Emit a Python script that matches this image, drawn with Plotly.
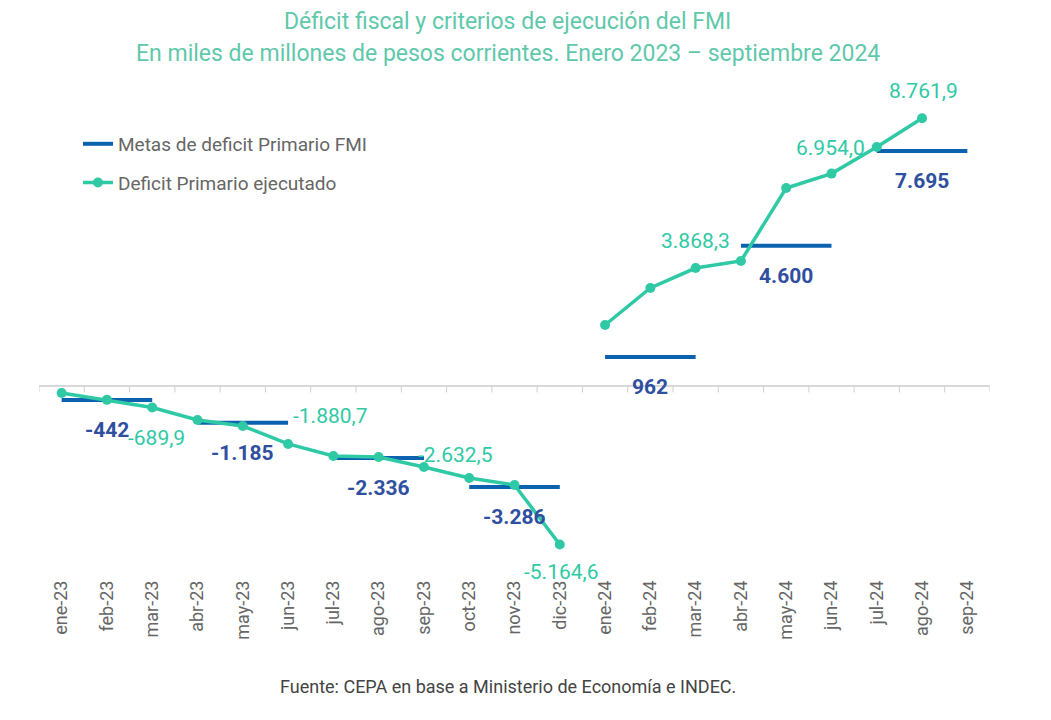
import plotly.graph_objects as go

months = ['ene-23', 'feb-23', 'mar-23', 'abr-23', 'may-23', 'jun-23', 'jul-23',
          'ago-23', 'sep-23', 'oct-23', 'nov-23', 'dic-23', 'ene-24', 'feb-24',
          'mar-24', 'abr-24', 'may-24', 'jun-24', 'jul-24', 'ago-24', 'sep-24']

# Deficit primario ejecutado (labelled points exact)
ejecutado_2023 = [-216, -440, -689.9, -1098, -1294, -1880.7, -2275, -2307,
                  -2632.5, -2993, -3222, -5164.6]
ejecutado_2024 = [2007, 3216, 3868.3, 4098, 6484, 6954.0, 7824, 8761.9]

# Metas trimestrales FMI (each spans 3 months)
metas = [-442, -1185, -2336, -3286, 962, 4600, 7695]

# Labelled points of the executed series: index -> (xanchor, xshift, yshift)
labelled_exec = {2: ('center', 4, -30), 5: ('left', 3, 28), 8: ('left', -8, 12),
                 11: ('center', 1, -28), 14: ('center', 0, 27),
                 17: ('center', -1, 26), 19: ('center', 1, 27)}

TEAL = '#2fc9a5'
BLUE = '#0d62b0'
BLUE_LBL = '#2f4f9f'
FONT = 'Roboto'


def fmt(v, dec):
    s = f"{abs(v):,.{dec}f}"
    s = s.replace(',', 'X').replace('.', ',').replace('X', '.')
    return ('-' if v < 0 else '') + s


x_idx = list(range(len(months)))

fig = go.Figure()

# Metas: horizontal segments per quarter
mx, my = [], []
for q, v in enumerate(metas):
    for k in range(3):
        mx.append(3 * q + k)
        my.append(v)
    mx.append(3 * q + 2)
    my.append(None)

fig.add_trace(go.Scatter(x=mx, y=my, mode='lines', name='Metas de deficit Primario FMI',
                         line=dict(color=BLUE, width=4), legendgroup='m',
                         connectgaps=False, hoverinfo='skip'))

fig.add_trace(go.Scatter(x=x_idx[:12], y=ejecutado_2023, mode='lines+markers',
                         name='Deficit Primario ejecutado', legendgroup='e',
                         line=dict(color=TEAL, width=3.5),
                         marker=dict(size=10, color=TEAL)))
fig.add_trace(go.Scatter(x=x_idx[12:20], y=ejecutado_2024, mode='lines+markers',
                         name='Deficit Primario ejecutado', legendgroup='e', showlegend=False,
                         line=dict(color=TEAL, width=3.5),
                         marker=dict(size=10, color=TEAL)))

ejecutado = ejecutado_2023 + ejecutado_2024
annotations = []
for i, (xa, xs, ys) in labelled_exec.items():
    annotations.append(dict(x=i, y=ejecutado[i], text=fmt(ejecutado[i], 1), showarrow=False,
                            xanchor=xa, yanchor='middle', xshift=xs, yshift=ys,
                            font=dict(family=FONT, size=21, color=TEAL)))
for q, v in enumerate(metas):
    annotations.append(dict(x=3 * q + 1, y=v, text='<b>' + fmt(v, 0) + '</b>', showarrow=False,
                            xanchor='center', yanchor='middle', yshift=-30,
                            font=dict(family=FONT, size=21, color=BLUE_LBL)))

# Title and source
annotations.append(dict(xref='paper', yref='paper', x=0.493, y=1.144, showarrow=False,
                        text='Déficit fiscal y criterios de ejecución del FMI',
                        xanchor='center', yanchor='middle',
                        font=dict(family=FONT, size=23, color='#5fc8ab')))
annotations.append(dict(xref='paper', yref='paper', x=0.493, y=1.078, showarrow=False,
                        text='En miles de millones de pesos corrientes. Enero 2023 – septiembre 2024',
                        xanchor='center', yanchor='middle',
                        font=dict(family=FONT, size=23, color='#5fc8ab')))
annotations.append(dict(xref='paper', yref='paper', x=0.493, y=-0.227, showarrow=False,
                        text='Fuente: CEPA en base a Ministerio de Economía e INDEC.',
                        xanchor='center', yanchor='middle',
                        font=dict(family=FONT, size=18, color='#444444')))

# Small tick marks on the zero line at category boundaries
shapes = []
for i in range(len(months) + 1):
    shapes.append(dict(type='line', xref='x', yref='y', x0=i - 0.5, x1=i - 0.5,
                       ysizemode='pixel', yanchor=0, y0=0, y1=-6,
                       line=dict(color='#d0d0d0', width=1)))

fig.update_layout(
    width=1051, height=720,
    margin=dict(l=31, r=69, t=83, b=152),
    paper_bgcolor='white', plot_bgcolor='white',
    font=dict(family=FONT),
    showlegend=True,
    legend=dict(x=0.041, y=0.93, xanchor='left', yanchor='top',
                font=dict(family=FONT, size=19, color='#666666'),
                tracegroupgap=11, traceorder='grouped', bgcolor='rgba(0,0,0,0)'),
    annotations=annotations,
    shapes=shapes,
    xaxis=dict(range=[-0.5, 20.5], tickvals=x_idx, ticktext=months, tickangle=-90,
               showgrid=False, zeroline=False, showline=False, ticks='',
               tickfont=dict(family=FONT, size=18, color='#666666')),
    yaxis=dict(range=[-6196, 9654], showgrid=False, showticklabels=False,
               zeroline=True, zerolinecolor='#d9d9d9', zerolinewidth=1.5, showline=False),
)

fig.write_html('out.html')
